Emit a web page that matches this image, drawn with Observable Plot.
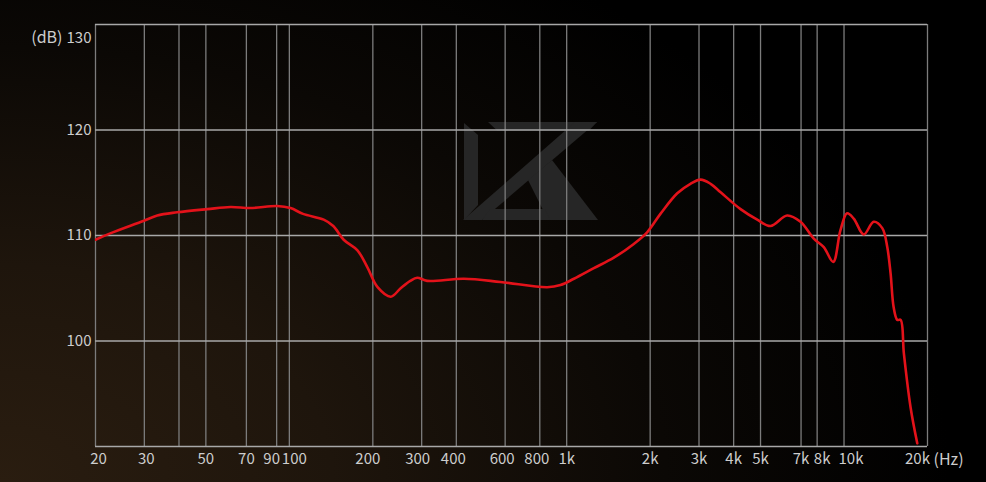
<!DOCTYPE html>
<html>
<head>
<meta charset="utf-8">
<script src="https://cdn.jsdelivr.net/npm/d3@7"></script>
<script src="https://cdn.jsdelivr.net/npm/@observablehq/plot@0.6"></script>
<style>
  html, body { margin: 0; padding: 0; }
  body {
    width: 986px; height: 482px; overflow: hidden;
    background: radial-gradient(ellipse 950px 620px at 0% 100%, #2a1d10 0%, #1e150c 35%, #0b0805 70%, #000 100%);
  }
  #chart svg { display: block; }
</style>
</head>
<body>
<div id="chart"></div>
<script>
// Frequency response (Hz -> dB)
const freq = [20, 22.6, 29.9, 33.4, 39.4, 50.6, 61.4, 72.4, 90.4, 101, 112, 133, 144, 157, 176, 191, 208, 232, 252, 273, 289, 314, 426, 577, 850, 950, 1062, 1253, 1479, 1746, 1950, 2178, 2505, 2794, 3040, 3304, 3590, 4236, 4866, 5432, 6238, 6968, 7780, 8454, 9141, 9710, 10260, 10840, 11780, 12800, 13740, 14320, 14720, 15100, 15560, 16000, 16440, 17380, 18370];
const level = [109.6, 110.2, 111.4, 111.9, 112.2, 112.5, 112.7, 112.6, 112.8, 112.6, 112.05, 111.5, 110.9, 109.6, 108.6, 107.0, 105.1, 104.2, 105.0, 105.7, 106.0, 105.7, 105.9, 105.6, 105.1, 105.3, 105.9, 106.9, 107.9, 109.2, 110.3, 112.05, 114.0, 114.9, 115.3, 114.9, 114.1, 112.5, 111.5, 110.9, 111.9, 111.3, 109.7, 108.9, 107.5, 110.5, 112.1, 111.6, 110.1, 111.3, 110.7, 108.9, 106.4, 103.2, 102.0, 102.0, 98.8, 93.7, 90.3];

// Grid and tick labels
const gridFreqs = [20, 30, 40, 50, 70, 90, 100, 200, 300, 400, 600, 800, 1000, 2000, 3000, 4000, 5000, 7000, 8000, 10000, 20000];
const xTickValues = [20, 30, 50, 70, 90, 100, 200, 300, 400, 600, 800, 1000, 2000, 3000, 4000, 5000, 7000, 8000, 10000, 20000];
const xTickLabels = ["20", "30", "50", "70", "90", "100", "200", "300", "400", "600", "800", "1k", "2k", "3k", "4k", "5k", "7k", "8k", "10k", "20k"];
const gridLevels = [90, 100, 110, 120, 130];
const yTickValues = [100, 110, 120, 130];
const yTickLabels = ["100", "110", "120", "130"];
const yUnit = "(dB)";
const xUnit = "(Hz)";

const data = freq.map((f, i) => ({f, db: level[i]}));
const xTicks = xTickValues.map((v, i) => ({v, label: xTickLabels[i]}));
const yTicks = yTickValues.map((v, i) => ({v, label: yTickLabels[i]}));

// small label nudges (styling) to mimic original label placement
const xNudge = {20: 3, 30: 2, 90: -5, 100: 5, 200: -5, 300: -4, 400: -3, 600: -3, 800: -3, 8000: 5, 10000: 7, 20000: -10};
const nudgeGroups = d3.groups(xTicks, d => xNudge[d.v] || 0);

const labelColor = "#cdcdcd";
const font = "'Noto Sans CJK SC', 'Noto Sans', sans-serif";

const marks = [
  Plot.ruleX(gridFreqs, {stroke: "#7c7c7c", strokeWidth: 1.3}),
  Plot.ruleY(gridLevels, {stroke: "#a8a8a8", strokeWidth: 1.5}),
  Plot.line(data, {x: "f", y: "db", curve: "catmull-rom", stroke: "#e3121a", strokeWidth: 2.6, clip: true}),
  ...nudgeGroups.map(([dx, arr]) => Plot.text(arr, {
    x: "v", y: () => 90, text: "label", dx, dy: 13, fill: labelColor, fontSize: 15, textAnchor: "middle", lineAnchor: "middle"
  })),
  Plot.text(yTicks.filter(d => d.v !== 130), {
    x: () => 20, y: "v", text: "label", dx: -4, fill: labelColor, fontSize: 15, textAnchor: "end", lineAnchor: "middle"
  }),
  Plot.text(yTicks.filter(d => d.v === 130), {
    x: () => 20, y: "v", text: "label", dx: -4, dy: 14, fill: labelColor, fontSize: 15, textAnchor: "end", lineAnchor: "middle"
  }),
  Plot.text([yUnit], {
    x: () => 20, y: () => 130, text: d => d, dx: -33, dy: 13, fill: labelColor, fontSize: 16, textAnchor: "end", lineAnchor: "middle"
  }),
  Plot.text([xUnit], {
    x: () => 20000, y: () => 90, text: d => d, dx: 6, dy: 13, fill: labelColor, fontSize: 16, textAnchor: "start", lineAnchor: "middle"
  })
];

const svg = Plot.plot({
  width: 986,
  height: 482,
  marginLeft: 95,
  marginRight: 59,
  marginTop: 24,
  marginBottom: 36,
  x: {type: "log", domain: [20, 20000], axis: null},
  y: {domain: [90, 130], axis: null},
  style: {background: "transparent", fontFamily: font, fontSize: "15px", color: labelColor},
  marks
});

// decorative watermark logo (behind grid)
const ns = "http://www.w3.org/2000/svg";
const logo = document.createElementNS(ns, "g");
logo.setAttribute("fill", "#262626");
const polys = [
  "488,122 597,122 589,130.5 497,130.5",
  "575,122 597,122 482,220 463,220",
  "464,123 478,135 478,205 464,220",
  "528,180 552,160 598,220 548,220",
  "490,209 545,209 550,220 482,220"
];
for (const p of polys) {
  const el = document.createElementNS(ns, "polygon");
  el.setAttribute("points", p);
  logo.appendChild(el);
}
const firstG = svg.querySelector("g");
svg.insertBefore(logo, firstG);

document.getElementById("chart").appendChild(svg);
</script>
</body>
</html>
